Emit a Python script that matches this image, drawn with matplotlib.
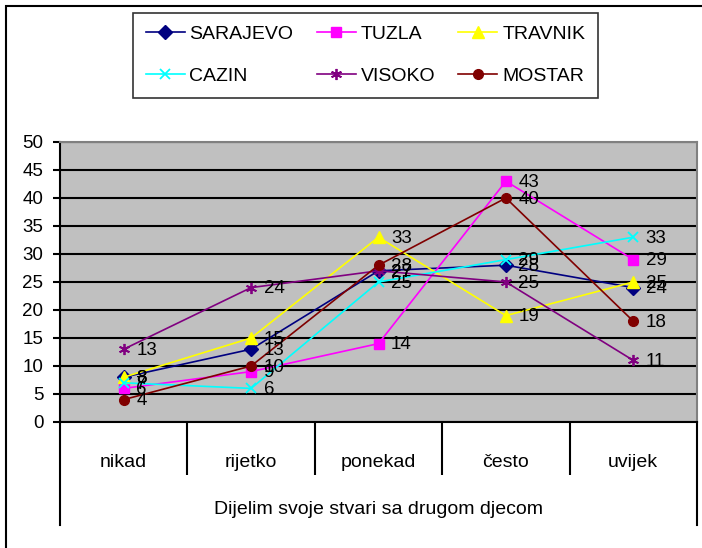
import matplotlib
matplotlib.use("Agg")
import matplotlib.pyplot as plt
from matplotlib.patches import Rectangle
from matplotlib.lines import Line2D
import matplotlib.transforms as mtransforms

# categories and values
categories = ["nikad", "rijetko", "ponekad", "često", "uvijek"]
group_label = "Dijelim svoje stvari sa drugom djecom"

sarajevo = [8, 13, 27, 28, 24]
tuzla = [6, 9, 14, 43, 29]
travnik = [8, 15, 33, 19, 25]
cazin = [7, 6, 25, 29, 33]
visoko = [13, 24, 27, 25, 11]
mostar = [4, 10, 28, 40, 18]

series = [
    ("SARAJEVO", sarajevo, "#000080", "D", 7),
    ("TUZLA", tuzla, "#FF00FF", "s", 7),
    ("TRAVNIK", travnik, "#FFFF00", "^", 9),
    ("CAZIN", cazin, "#00FFFF", "x", 7),
    ("VISOKO", visoko, "#800080", (6, 2, 0), 8),
    ("MOSTAR", mostar, "#800000", "o", 7),
]

plt.rcParams["font.family"] = ["Liberation Sans", "DejaVu Sans"]

W, H = 702, 548
fig = plt.figure(figsize=(W / 100, H / 100), dpi=100)

# outer chart border (cut at right and bottom like the reference)
fig.add_artist(Rectangle((6 / W, -0.05), 1.2, 1 - 6 / H + 0.05,
                         transform=fig.transFigure, fill=False,
                         edgecolor="black", lw=1.5))

left, right, top, bottom = 60, 697, 142, 422
ax = fig.add_axes([left / W, 1 - bottom / H, (right - left) / W, (bottom - top) / H])
ax.set_facecolor("#C0C0C0")

x = [i + 0.5 for i in range(len(categories))]
handles = {}
for name, vals, col, mk, ms in series:
    thin = mk == "x" or isinstance(mk, tuple)
    ln, = ax.plot(x, vals, color=col, lw=1.2, marker=mk, markersize=ms,
                  markeredgecolor=col, markerfacecolor=col,
                  markeredgewidth=1.3 if thin else 1,
                  label=name, clip_on=False, zorder=3)
    handles[name] = ln
    for xi, v in zip(x, vals):
        ax.annotate(str(v), (xi, v), xytext=(9, -1), textcoords="offset points",
                    ha="left", va="center", fontsize=13.5, color="black", zorder=4)

ax.set_xlim(0, 5)
ax.set_ylim(0, 50)
ax.set_yticks(range(0, 51, 5))
ax.yaxis.grid(True, color="black", lw=1.5)
ax.set_axisbelow(True)
ax.tick_params(axis="y", direction="out", length=5, width=1.5, pad=7, labelsize=13.5)

ax.set_xticks(x)
ax.set_xticklabels(categories, fontsize=14)
ax.set_xticks([1, 2, 3, 4], minor=True)
ax.tick_params(axis="x", which="major", length=0, pad=23)
ax.tick_params(axis="x", which="minor", direction="out", length=38, width=1.5)

for s in ["top", "right"]:
    ax.spines[s].set_color("#808080")
    ax.spines[s].set_linewidth(1.5)
for s in ["left", "bottom"]:
    ax.spines[s].set_color("black")
    ax.spines[s].set_linewidth(1.5)

# outer separators of the category axis and group label
trans = mtransforms.blended_transform_factory(ax.transData, ax.transAxes)
low = -(525 - bottom) / (bottom - top)
for xv in (0, 5):
    ax.add_line(Line2D([xv, xv], [0, low], transform=trans, color="black",
                       lw=1.5, clip_on=False))
ax.text(2.5, -(510 - bottom) / (bottom - top), group_label, transform=trans,
        ha="center", va="center", fontsize=14)

# legend, row order like the reference
order = ["SARAJEVO", "CAZIN", "TUZLA", "VISOKO", "TRAVNIK", "MOSTAR"]
leg = fig.legend([handles[n] for n in order], order, ncol=3,
                 loc="upper left", bbox_to_anchor=(133 / W, 1 - 13 / H),
                 borderaxespad=0, frameon=True, fancybox=False,
                 edgecolor="black", fontsize=14, handlelength=2.0,
                 handletextpad=0.25, columnspacing=1.2, labelspacing=1.25,
                 borderpad=0.65)
leg.get_frame().set_linewidth(1.2)

fig.savefig("out.png", dpi=100)
